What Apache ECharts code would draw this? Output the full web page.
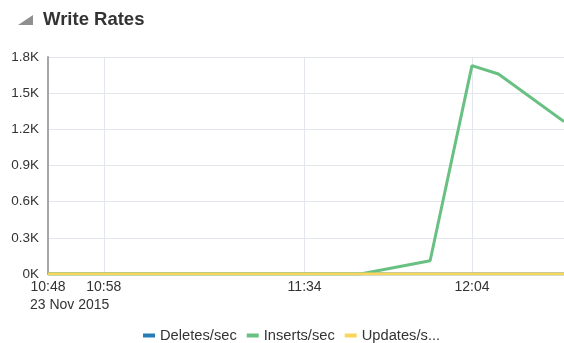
<!DOCTYPE html>
<html>
<head>
<meta charset="utf-8">
<script src="https://cdn.jsdelivr.net/npm/echarts@6/dist/echarts.min.js"></script>
<style>
  html, body { margin: 0; padding: 0; background: #ffffff; }
  #chart { width: 564px; height: 343px; }
</style>
</head>
<body>
<div id="chart"></div>
<script>
// Sample day and visible time window
const sampleDay = '2015-11-23';
const dayLabel = '23 Nov 2015';
const windowStart = '10:48';
const windowEnd = '12:20:30';

// Time axis tick labels
const timeTicks = ['10:48', '10:58', '11:34', '12:04'];

// Value axis (writes per second)
const rateMax = 1800;
const rateStep = 300;

// Series samples: times and values
const deleteTimes = ['10:48', '12:20:30'];
const deleteValues = [0, 0];

const insertTimes = ['10:48', '11:44', '11:56:30', '12:04', '12:08:45', '12:20:30'];
const insertValues = [0, 0, 110, 1728, 1659, 1265];

const updateTimes = ['10:48', '12:20:30'];
const updateValues = [0, 0];

const seriesNames = ['Deletes/sec', 'Inserts/sec', 'Updates/sec'];
const legendLabels = ['Deletes/sec', 'Inserts/sec', 'Updates/s...'];
const seriesColors = ['#267db3', '#68c182', '#fad55c'];

const fontStack = '"Liberation Sans", Arial, sans-serif';
const xLabelSize = 14;

function toMs(t) {
  const full = t.length === 5 ? t + ':00' : t;
  return new Date(sampleDay + 'T' + full).getTime();
}
function pairs(times, values) {
  return times.map((t, i) => [toMs(t), values[i]]);
}
function hhmm(ms) {
  const d = new Date(ms);
  return String(d.getHours()).padStart(2, '0') + ':' + String(d.getMinutes()).padStart(2, '0');
}

const chart = echarts.init(document.getElementById('chart'), null, { renderer: 'canvas' });

const seriesData = [
  pairs(deleteTimes, deleteValues),
  pairs(insertTimes, insertValues),
  pairs(updateTimes, updateValues)
];

const sharedTimeAxis = {
  type: 'value',
  gridIndex: 0,
  min: toMs(windowStart),
  max: toMs(windowEnd),
  position: 'bottom'
};

chart.setOption({
  animation: false,
  backgroundColor: '#ffffff',
  textStyle: { fontFamily: fontStack },
  title: {
    text: 'Write Rates',
    left: 43,
    top: 10,
    padding: 0,
    textStyle: {
      fontSize: 18.5,
      fontWeight: 'bold',
      color: '#333333',
      fontFamily: fontStack
    }
  },
  graphic: [{
    type: 'polygon',
    shape: { points: [[18, 25], [33, 25], [33, 15]] },
    style: { fill: '#8f8f8f' }
  }],
  grid: { left: 48, right: 0, top: 57, bottom: 69, containLabel: false, outerBoundsMode: 'none' },
  legend: {
    left: 143,
    top: 328,
    padding: 0,
    icon: 'rect',
    itemWidth: 12,
    itemHeight: 4,
    itemGap: 10,
    textStyle: { fontSize: 14.7, color: '#333333' },
    formatter: name => legendLabels[seriesNames.indexOf(name)],
    data: seriesNames
  },
  xAxis: [
    Object.assign({}, sharedTimeAxis, {
      axisLine: { show: true, onZero: false, lineStyle: { color: '#a6a6a6', width: 1 } },
      axisTick: { show: false, customValues: timeTicks.map(toMs) },
      splitLine: { show: true, lineStyle: { color: '#e4e6ee', width: 1 } },
      axisLabel: {
        customValues: timeTicks.map(toMs),
        showMinLabel: true,
        showMaxLabel: true,
        hideOverlap: false,
        margin: 6,
        fontSize: xLabelSize,
        color: '#333333',
        formatter: value => hhmm(value)
      }
    }),
    // Date line shown once under the first time label
    Object.assign({}, sharedTimeAxis, {
      axisLine: { show: false, onZero: false },
      axisTick: { show: false, customValues: [toMs(timeTicks[0])] },
      splitLine: { show: false },
      axisLabel: {
        customValues: [toMs(timeTicks[0])],
        showMinLabel: true,
        margin: 24,
        width: 36,
        overflow: 'none',
        fontSize: xLabelSize,
        color: '#333333',
        formatter: () => '{d|' + dayLabel + '}',
        rich: {
          d: { align: 'left', fontSize: xLabelSize, color: '#333333' }
        }
      }
    })
  ],
  yAxis: {
    type: 'value',
    min: 0,
    max: rateMax,
    interval: rateStep,
    axisLine: { show: true, lineStyle: { color: '#a6a6a6', width: 2 } },
    axisTick: { show: false },
    splitLine: { show: true, lineStyle: { color: '#e4e6ee', width: 1 } },
    axisLabel: {
      margin: 9,
      fontSize: 13.5,
      color: '#333333',
      formatter: v => v === 0 ? '0K' : (v / 1000).toFixed(1) + 'K'
    }
  },
  series: seriesNames.map((name, i) => ({
    name,
    type: 'line',
    xAxisIndex: 0,
    data: seriesData[i],
    showSymbol: false,
    clip: true,
    color: seriesColors[i],
    lineStyle: { width: 3, color: seriesColors[i] },
    z: 2 + i
  }))
});
</script>
</body>
</html>
